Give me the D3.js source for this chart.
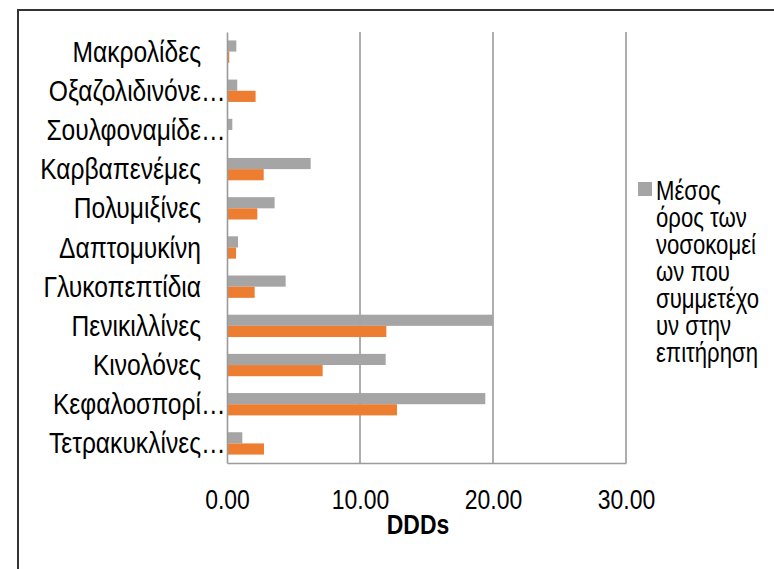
<!DOCTYPE html>
<html>
<head>
<meta charset="utf-8">
<script src="https://cdn.jsdelivr.net/npm/d3@7"></script>
<style>
  html, body { margin: 0; padding: 0; background: #fff; }
  svg { display: block; }
</style>
</head>
<body>
<svg id="chart" width="774" height="569"></svg>
<script>
// ---- data ----
const categories = [
  "Μακρολίδες",
  "Οξαζολιδινόνε…",
  "Σουλφοναμίδε…",
  "Καρβαπενέμες",
  "Πολυμιξίνες",
  "Δαπτομυκίνη",
  "Γλυκοπεπτίδια",
  "Πενικιλλίνες",
  "Κινολόνες",
  "Κεφαλοσπορί…",
  "Τετρακυκλίνες…"
];
const seriesNames = [
  "Μέσος όρος των νοσοκομείων που συμμετέχουν στην επιτήρηση",
  "Νοσοκομείο"
];
const averageValues = [0.70, 0.77, 0.40, 6.29, 3.58, 0.83, 4.41, 20.00, 11.93, 19.42, 1.15];
const hospitalValues = [0.17, 2.15, 0.00, 2.76, 2.28, 0.68, 2.08, 11.98, 7.19, 12.78, 2.78];
const xTicks = [0, 10, 20, 30];
const xTitle = "DDDs";
const legendLines = ["Μέσος", "όρος των", "νοσοκομεί", "ων που", "συμμετέχο", "υν στην", "επιτήρηση"];

const colors = ["#a5a5a5", "#ed7d31"];

// ---- font detection (narrow font) ----
const svg = d3.select("#chart");
function measure(family) {
  const t = svg.append("text").attr("font-family", family).attr("font-size", 100).text("Πενικιλλίνες 0.00");
  const w = t.node().getComputedTextLength();
  t.remove();
  return w;
}
const wNarrow = measure("'Liberation Sans Narrow'");
const wReg = measure("'Liberation Sans'");
let family, sx;
if (wNarrow < wReg * 0.9) { family = "'Liberation Sans Narrow', 'Arial Narrow', sans-serif"; sx = 1; }
else { family = "'Liberation Sans', Arial, sans-serif"; sx = 0.82; }

// ---- layout ----
const plot = { left: 227, right: 626, top: 32, bottom: 463 };

svg.append("rect").attr("x", 0).attr("y", 0).attr("width", 774).attr("height", 569).attr("fill", "#fff");
// outer frame (extends past right/bottom edges)
svg.append("rect")
  .attr("x", 18).attr("y", 10).attr("width", 800).attr("height", 600)
  .attr("fill", "none").attr("stroke", "#333").attr("stroke-width", 2);

const x = d3.scaleLinear().domain([0, 30]).range([plot.left, plot.right]);
const y = d3.scaleBand().domain(categories).range([plot.top, plot.bottom])
  .paddingInner(0.43).paddingOuter(0.215);
const ySub = d3.scaleBand().domain([0, 1]).range([0, y.bandwidth()]);

// gridlines
svg.append("g").selectAll("line").data(xTicks.filter(d => d > 0)).join("line")
  .attr("x1", d => x(d)).attr("x2", d => x(d))
  .attr("y1", plot.top).attr("y2", plot.bottom)
  .attr("stroke", "#9a9a9a").attr("stroke-width", 1.6);

// bars
const seriesValues = [averageValues, hospitalValues];
const barsG = svg.append("g");
seriesValues.forEach((vals, si) => {
  barsG.append("g").selectAll("rect").data(categories.map((c, i) => ({ c, v: vals[i] }))).join("rect")
    .attr("x", x(0))
    .attr("y", d => y(d.c) + ySub(si))
    .attr("width", d => x(d.v) - x(0))
    .attr("height", ySub.bandwidth())
    .attr("fill", colors[si]);
});

// x axis
const xAxis = svg.append("g").attr("transform", `translate(0,${plot.bottom})`)
  .call(d3.axisBottom(x).tickValues(xTicks).tickFormat(d3.format(".2f")).tickSize(0).tickPadding(0));
xAxis.select(".domain").attr("stroke", "#9a9a9a").attr("stroke-width", 1.6);
xAxis.selectAll("text")
  .attr("font-family", family).attr("font-size", 28).attr("fill", "#000")
  .attr("y", 46).attr("dy", null)
  .attr("transform", `scale(${sx},1)`);

// y axis
const yAxis = svg.append("g").attr("transform", `translate(${plot.left},0)`)
  .call(d3.axisLeft(y).tickSize(0).tickFormat(""));
yAxis.select(".domain").attr("stroke", "#9a9a9a").attr("stroke-width", 1.6);

// category labels (main part right-aligned, ellipsis overflows)
const labelX = 201;
const labG = svg.append("g");
categories.forEach(c => {
  const cy = y(c) + y.bandwidth() / 2 + 10;
  const trunc = c.endsWith("…");
  const main = trunc ? c.slice(0, -1) : c;
  const g = labG.append("g").attr("transform", `translate(${labelX},${cy}) scale(${sx},1)`);
  g.append("text").attr("text-anchor", "end").attr("font-family", family).attr("font-size", 30)
    .attr("fill", "#000").text(main);
  if (trunc) {
    g.append("text").attr("text-anchor", "start").attr("font-family", family).attr("font-size", 30)
      .attr("fill", "#000").text("…");
  }
});

// axis title
svg.append("g").attr("transform", `translate(418,534) scale(${sx},1)`)
  .append("text").attr("text-anchor", "middle").attr("font-family", family)
  .attr("font-size", 28).attr("font-weight", "bold").attr("fill", "#000").text(xTitle);

// legend (only first entry visible)
const lg = svg.append("g");
lg.append("rect").attr("x", 638).attr("y", 182).attr("width", 14).attr("height", 14).attr("fill", colors[0]);
legendLines.forEach((ln, i) => {
  lg.append("g").attr("transform", `translate(656,${200 + i * 27}) scale(${sx},1)`)
    .append("text").attr("font-family", family).attr("font-size", 27).attr("fill", "#000").text(ln);
});
</script>
</body>
</html>
